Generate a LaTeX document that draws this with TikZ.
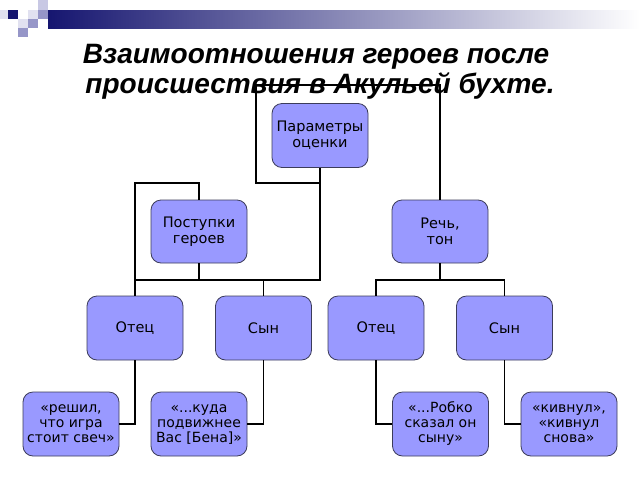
\documentclass[tikz,border=0pt]{standalone}
\usepackage{fontspec}
\setmainfont{DejaVu Sans}
\newfontfamily\titlefont{Liberation Sans}
\usetikzlibrary{calc}
\definecolor{boxfill}{RGB}{153,153,255}
\definecolor{boxline}{RGB}{60,60,90}
\definecolor{navy}{RGB}{22,22,112}
\definecolor{sqA}{RGB}{200,200,228}
\definecolor{sqB}{RGB}{150,150,200}
\definecolor{sqC}{RGB}{225,225,240}
\begin{document}
\begin{tikzpicture}[x=1pt,y=-1pt,
  box/.style={draw=boxline, line width=0.8pt, fill=boxfill, rounded corners=10pt,
    minimum width=96pt, minimum height=64pt, align=center, inner sep=0pt,
    font=\fontsize{14.5}{16}\selectfont},
  qbox/.style={box, font=\fontsize{14}{15}\selectfont},
  link/.style={line width=1.9pt, black},
  ttl/.style={font=\titlefont\bfseries\itshape\fontsize{28}{30}\selectfont, inner sep=0pt, anchor=base}]
\useasboundingbox (0,0) rectangle (640,480);
\fill[white] (0,0) rectangle (640,480);
% header
\shade[left color=navy, right color=white] (48,10) rectangle (640,28);
\fill[sqA] (38,0) rectangle (48,10);
\fill[sqC] (0,10) rectangle (8,19);
\fill[navy] (8,10) rectangle (18,19);
\fill[sqC] (28,10) rectangle (38,19);
\fill[sqB] (38,10) rectangle (48,19);
\fill[sqC] (18,19) rectangle (28,28);
\fill[sqB] (28,19) rectangle (38,28);
\fill[sqB] (18,28) rectangle (28,37);
% title
\node[ttl] (title1) at (316,63) {Взаимоотношения героев после};
\node[ttl] (title2) at (320,93) {происшествия в Акульей бухте.};
% boxes
\node[box] (root) at (320,135.5) {Параметры\\оценки};
\node[box, minimum height=63pt] (post) at (199,231.5) {Поступки\\героев};
\node[box, minimum height=63pt] (rech) at (440,231.5) {Речь,\\тон};
\node[box] (otL) at (135,328) {Отец};
\node[box] (synL) at (263.5,328) {Сын};
\node[box] (otR) at (376,328) {Отец};
\node[box] (synR) at (504.5,328) {Сын};
\node[qbox] (q1) at (71,424) {«решил,\\что игра\\стоит свеч»};
\node[qbox] (q2) at (199,424) {«...куда\\подвижнее\\Вас [Бена]»};
\node[qbox] (q3) at (440.5,424) {«...Робко\\сказал он\\сыну»};
\node[qbox] (q4) at (569,424) {«кивнул»,\\«кивнул\\снова»};
% connectors
\coordinate (bL) at (135,280);
\coordinate (tl) at (256,85);
\draw[link] (root.south) -- (root.south |- bL) -- (bL);
\draw[link] (post.south) -- (post.south |- bL);
\draw[link] (synL.north) -- (synL.north |- bL);
\draw[link] (post.north) -- ++(0,-17) -| (otL.north);
\draw[link] (rech.north) |- (tl) |- ($(root.south)+(0,15)$);
\draw[link] (rech.south) -- ++(0,17) coordinate (bR);
\draw[link] (otR.north) |- (bR) -| (synR.north);
\draw[link] (otL.south) |- (q1.east);
\draw[link] (synL.south) |- (q2.east);
\draw[link] (otR.south) |- (q3.west);
\draw[link] (synR.south) |- (q4.west);
\end{tikzpicture}
\end{document}
